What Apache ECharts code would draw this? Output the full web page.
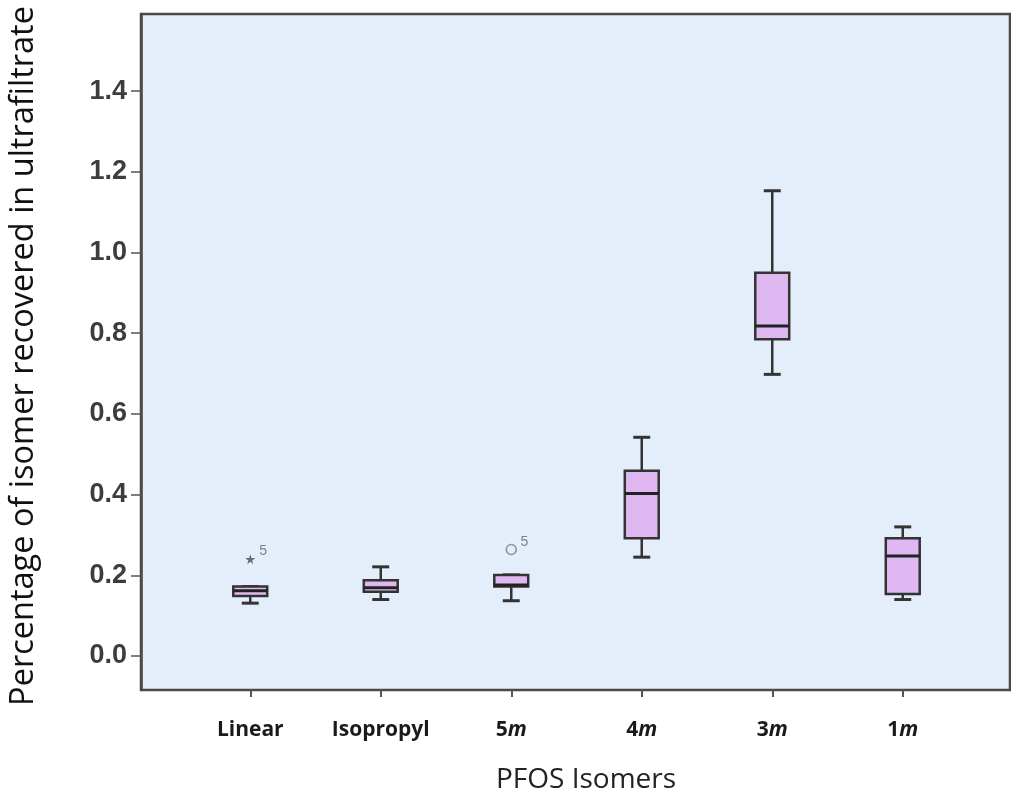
<!DOCTYPE html>
<html>
<head>
<meta charset="utf-8">
<script src="https://cdn.jsdelivr.net/npm/echarts@6/dist/echarts.min.js"></script>
<style>
html,body{margin:0;padding:0;background:#fff;}
#chart{width:1011px;height:798px;}
</style>
</head>
<body>
<div id="chart"></div>
<script>
// ---- data ----
const categories = ['Linear', 'Isopropyl', '5m', '4m', '3m', '1m'];
const whiskerLow  = [0.131, 0.140, 0.137, 0.245, 0.698, 0.140];
const q1Values    = [0.149, 0.159, 0.172, 0.292, 0.785, 0.154];
const medians     = [0.162, 0.169, 0.176, 0.403, 0.818, 0.248];
const q3Values    = [0.172, 0.188, 0.201, 0.459, 0.950, 0.292];
const whiskerHigh = [0.172, 0.221, 0.201, 0.542, 1.153, 0.320];
const outlierCategory = [0, 2];
const outlierValue    = [0.240, 0.264];
const outlierLabel    = ['5', '5'];
const outlierKind     = ['extreme', 'mild'];
const yTicks = [0, 0.2, 0.4, 0.6, 0.8, 1.0, 1.2, 1.4];
const yMin = -0.0842, yMax = 1.591;

const boxData = categories.map((c, i) => [i, whiskerLow[i], q1Values[i], medians[i], q3Values[i], whiskerHigh[i]]);
const starPath = 'path://M50,0 L61,35 L98,35 L68,57 L79,91 L50,70 L21,91 L32,57 L2,35 L39,35 Z';
const outlierData = outlierCategory.map((c, i) => ({
  value: [c, outlierValue[i]],
  symbol: outlierKind[i] === 'extreme' ? starPath : 'circle',
  symbolSize: outlierKind[i] === 'extreme' ? 10 : 10,
  itemStyle: outlierKind[i] === 'extreme'
    ? { color: '#4a4a4a', borderWidth: 0 }
    : { color: 'rgba(0,0,0,0)', borderColor: '#7a7a7a', borderWidth: 1.6 },
  label: { show: true, formatter: outlierLabel[i], position: outlierKind[i] === 'extreme' ? [14, -10] : [15, -9] }
}));

const chart = echarts.init(document.getElementById('chart'));
const stroke = '#333333';
chart.setOption({
  animation: false,
  backgroundColor: '#ffffff',
  grid: [
    { left: 141, right: 1, top: 14, bottom: 108, show: true, backgroundColor: '#E3EEFA', borderColor: '#4a4a4a', borderWidth: 2.5, outerBoundsMode: 'none', containLabel: false },
    { left: 185, right: 43, top: 14, bottom: 108, show: false, outerBoundsMode: 'none', containLabel: false }
  ],
  xAxis: [
    { gridIndex: 0, type: 'value', show: false, min: 0, max: 1 },
    {
      gridIndex: 1, type: 'category', data: categories, position: 'bottom',
      axisLine: { show: false, onZero: false },
      axisTick: { show: true, alignWithLabel: true, length: 7, lineStyle: { color: '#555', width: 2 } },
      axisLabel: {
        margin: 30,
        formatter: v => (v.length === 2 && v[1] === 'm') ? '{b|' + v[0] + '}{i|m}' : '{b|' + v + '}',
        rich: {
          b: { fontFamily: 'Open Sans', fontWeight: 'bold', fontSize: 21, color: '#1a1a1a' },
          i: { fontFamily: 'Open Sans', fontWeight: 'bold', fontStyle: 'italic', fontSize: 21, color: '#1a1a1a' }
        }
      },
      splitLine: { show: false }
    }
  ],
  yAxis: [
    {
      gridIndex: 0, type: 'value', min: yMin, max: yMax,
      axisLine: { show: true, lineStyle: { color: '#4a4a4a', width: 2.5 } },
      axisTick: { show: true, customValues: yTicks, length: 10, lineStyle: { color: '#555', width: 1.5 } },
      axisLabel: {
        customValues: yTicks, margin: 14,
        formatter: v => v.toFixed(1),
        fontFamily: 'Liberation Sans', fontWeight: 'bold', fontSize: 27, color: '#3d3d3d'
      },
      splitLine: { show: false }
    },
    { gridIndex: 1, type: 'value', min: yMin, max: yMax, show: false }
  ],
  series: [
    {
      type: 'custom', xAxisIndex: 1, yAxisIndex: 1,
      data: boxData,
      encode: { x: 0, y: [1, 2, 3, 4, 5] },
      renderItem: function (params, api) {
        const x = api.value(0);
        const lo = api.coord([x, api.value(1)]);
        const q1 = api.coord([x, api.value(2)]);
        const md = api.coord([x, api.value(3)]);
        const q3 = api.coord([x, api.value(4)]);
        const hi = api.coord([x, api.value(5)]);
        const band = api.size([1, 0])[0];
        const bw = band * 0.26, cw = band * 0.13;
        const cx = lo[0];
        const ls = { stroke: stroke, lineWidth: 2.5 };
        return {
          type: 'group',
          children: [
            { type: 'line', shape: { x1: cx, y1: q1[1], x2: cx, y2: lo[1] }, style: ls },
            { type: 'line', shape: { x1: cx, y1: q3[1], x2: cx, y2: hi[1] }, style: ls },
            { type: 'line', shape: { x1: cx - cw / 2, y1: lo[1], x2: cx + cw / 2, y2: lo[1] }, style: { stroke: stroke, lineWidth: 3 } },
            { type: 'line', shape: { x1: cx - cw / 2, y1: hi[1], x2: cx + cw / 2, y2: hi[1] }, style: { stroke: stroke, lineWidth: 3 } },
            { type: 'rect', shape: { x: cx - bw / 2, y: q3[1], width: bw, height: q1[1] - q3[1] }, style: { fill: '#DFB8F2', stroke: stroke, lineWidth: 2.5 } },
            { type: 'line', shape: { x1: cx - bw / 2, y1: md[1], x2: cx + bw / 2, y2: md[1] }, style: { stroke: '#222', lineWidth: 3 } }
          ]
        };
      }
    },
    {
      type: 'scatter', xAxisIndex: 1, yAxisIndex: 1,
      data: outlierData,
      label: { fontFamily: 'Liberation Sans', fontSize: 14, color: '#666' }
    }
  ],
  graphic: [
    { type: 'text', x: 586, y: 780, style: { text: 'PFOS Isomers', font: '28px "Open Sans"', fill: '#222', textAlign: 'center', textVerticalAlign: 'middle' } },
    { type: 'text', x: 24, y: 356, rotation: Math.PI / 2, style: { text: 'Percentage of isomer recovered in ultrafiltrate', font: '32.5px "Open Sans"', fill: '#111', textAlign: 'center', textVerticalAlign: 'middle' } }
  ]
});
</script>
</body>
</html>
